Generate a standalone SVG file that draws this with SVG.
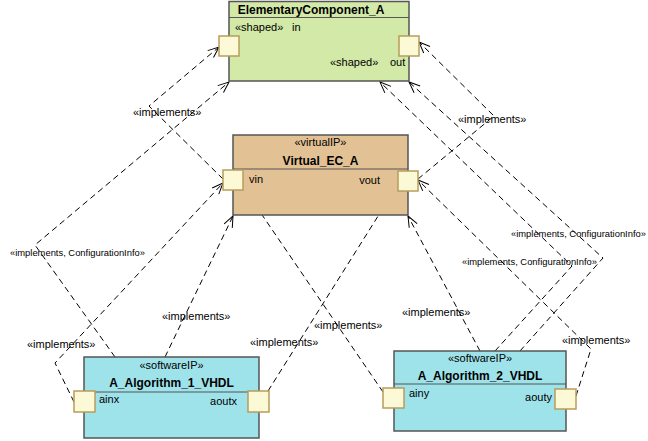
<svg xmlns="http://www.w3.org/2000/svg" width="648" height="441" viewBox="0 0 648 441">
<defs>
<marker id="arr" markerUnits="userSpaceOnUse" markerWidth="14" markerHeight="12" viewBox="-12 -6 14 12" refX="0" refY="0" orient="auto">
<path d="M-11,-4.5 L0,0 L-11,4.5" fill="none" stroke="#000" stroke-width="1"/>
</marker>
</defs>
<style>
text{font-family:"Liberation Sans",Arial,sans-serif;fill:#000}
.lbl{font-size:11px}
.cfg{font-size:9.4px}
.t{font-size:12px;font-weight:bold}
.st{font-size:11px}
.box{stroke:#555;stroke-width:1.5}
.sep{stroke:#555;stroke-width:1.2}
.port{fill:#fbf9d6;stroke:#b89c5c;stroke-width:1.5}
.c{fill:none;stroke:#000;stroke-width:1;stroke-dasharray:6,4;marker-end:url(#arr)}
</style>

<g id="connectors">
<polyline class="c" points="223,179 149,106 219,47"/>
<polyline class="c" points="418,179 494,116 419,42"/>
<polyline class="c" points="115,357 35,245 229,82"/>
<polyline class="c" points="165,357 233,216"/>
<polyline class="c" points="74,402 55,363 223,183"/>
<polyline class="c" points="268,391 397,186"/>
<polyline class="c" points="383,392 243,187"/>
<polyline class="c" points="480,351 408,216"/>
<polyline class="c" points="520,351 603,258 409,82"/>
<polyline class="c" points="495,351 572,266 380,82"/>
<polyline class="c" points="576,396 591,349 418,180"/>
<text class="lbl" x="133" y="116">«implements»</text>
<text class="lbl" x="458" y="123">«implements»</text>
<text class="cfg" x="10" y="256">«implements, ConfigurationInfo»</text>
<text class="lbl" x="162" y="320">«implements»</text>
<text class="lbl" x="27" y="348">«implements»</text>
<text class="lbl" x="250" y="346">«implements»</text>
<text class="lbl" x="314" y="329">«implements»</text>
<text class="lbl" x="402" y="316">«implements»</text>
<text class="cfg" x="462" y="265">«implements, ConfigurationInfo»</text>
<text class="cfg" x="511" y="237">«implements, ConfigurationInfo»</text>
<text class="lbl" x="562" y="344">«implements»</text>
</g>

<g id="ElementaryComponent_A">
<rect class="box" x="229" y="1.5" width="180" height="79.5" fill="#d3e9a8"/>
<line class="sep" x1="229" y1="17.5" x2="409" y2="17.5"/>
<text class="t" x="311" y="14" text-anchor="middle">ElementaryComponent_A</text>
<text class="st" x="235" y="31">«shaped»</text>
<text class="st" x="292" y="31">in</text>
<text class="st" x="330" y="66">«shaped»</text>
<text class="st" x="390" y="66">out</text>
<rect class="port" x="219" y="36" width="20" height="20"/>
<rect class="port" x="399" y="36" width="20" height="20"/>
</g>

<g id="Virtual_EC_A">
<rect class="box" x="233" y="135" width="175" height="80" fill="#e2c295"/>
<line class="sep" x1="233" y1="169" x2="408" y2="169"/>
<text class="st" x="320.5" y="146" text-anchor="middle">«virtualIP»</text>
<text class="t" x="320.5" y="165" text-anchor="middle">Virtual_EC_A</text>
<text class="st" x="249" y="183">vin</text>
<text class="st" x="380" y="184" text-anchor="end">vout</text>
<rect class="port" x="223" y="170" width="20" height="20"/>
<rect class="port" x="398" y="171" width="20" height="20"/>
</g>

<g id="A_Algorithm_1_VHDL">
<rect class="box" x="84" y="357" width="175" height="81" fill="#9fe3ea"/>
<line class="sep" x1="84" y1="392" x2="259" y2="392"/>
<text class="st" x="171.5" y="369" text-anchor="middle">«softwareIP»</text>
<text class="t" x="171.5" y="387" text-anchor="middle">A_Algorithm_1_VHDL</text>
<text class="st" x="99" y="403">ainx</text>
<text class="st" x="237" y="405" text-anchor="end">aoutx</text>
<rect class="port" x="74" y="391" width="21" height="21"/>
<rect class="port" x="248" y="391" width="21" height="21"/>
</g>

<g id="A_Algorithm_2_VHDL">
<rect class="box" x="394" y="351" width="172" height="80" fill="#9fe3ea"/>
<line class="sep" x1="394" y1="384" x2="566" y2="384"/>
<text class="st" x="480" y="362" text-anchor="middle">«softwareIP»</text>
<text class="t" x="480" y="380" text-anchor="middle">A_Algorithm_2_VHDL</text>
<text class="st" x="409" y="397">ainy</text>
<text class="st" x="552" y="401" text-anchor="end">aouty</text>
<rect class="port" x="383" y="388" width="21" height="20"/>
<rect class="port" x="555" y="389" width="21" height="20"/>
</g>
</svg>
